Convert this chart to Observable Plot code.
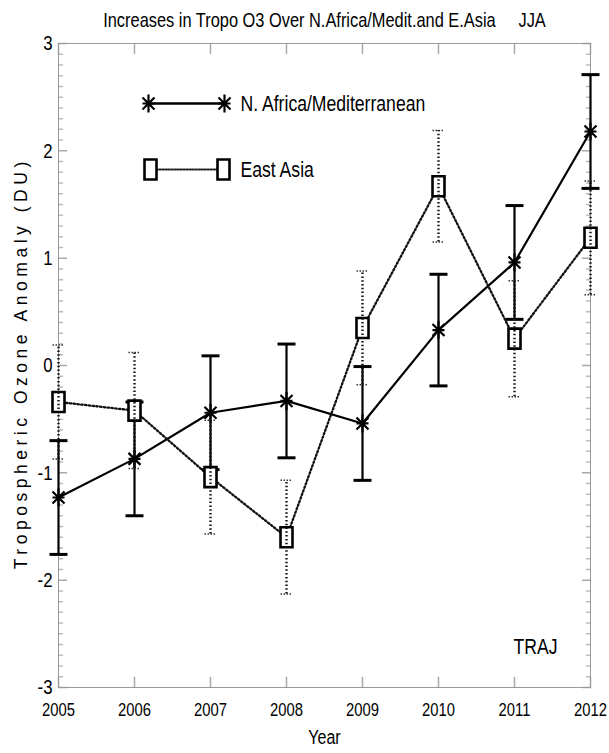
<!DOCTYPE html>
<html><head><meta charset="utf-8">
<script src="https://cdn.jsdelivr.net/npm/d3@7"></script>
<script src="https://cdn.jsdelivr.net/npm/@observablehq/plot@0.6"></script>
<style>
body{margin:0;background:#fff;}
#chart svg{display:block;}
</style></head><body><div id="chart"></div>
<script>
// ---- data ----
const years = [2005, 2006, 2007, 2008, 2009, 2010, 2011, 2012];
const nAfrica = [-1.23, -0.87, -0.44, -0.33, -0.54, 0.33, 0.96, 2.18];
const nAfricaErr = [0.53, 0.53, 0.53, 0.53, 0.53, 0.52, 0.53, 0.53];
const eastAsia = [-0.34, -0.42, -1.04, -1.60, 0.35, 1.67, 0.25, 1.19];
const eastAsiaErr = [0.53, 0.54, 0.53, 0.53, 0.53, 0.52, 0.54, 0.53];
const yTicks = [-3, -2, -1, 0, 1, 2, 3];
const yMinorTicks = d3.range(-30, 31).filter(i => i % 10 !== 0).map(i => i / 10);
const seriesNames = ["N. Africa/Mediterranean", "East Asia"];
const titleText = "Increases in Tropo O3 Over N.Africa/Medit.and E.Asia\u00a0\u00a0\u00a0\u00a0\u00a0JJA";
const xLabel = "Year";
const yLabel = "Tropospheric Ozone Anomaly (DU)";
const noteText = "TRAJ";

const naf = years.map((year, i) => ({year, v: nAfrica[i], e: nAfricaErr[i]}));
const eas = years.map((year, i) => ({year, v: eastAsia[i], e: eastAsiaErr[i]}));

// ---- styling ----
const FONT = "'Liberation Sans',Arial,Helvetica,sans-serif";
const NARROW_FACTOR = 0.8;     // condensed lettering like the original
const YLABEL_SPREAD = 1.5;     // the y label is letter-spaced in the original
const tickShape = {draw(c, l) { c.moveTo(0, 0); c.lineTo(0, -l); }};
const asterisk = {draw(c) {
  c.moveTo(0, -9); c.lineTo(0, 9);
  c.moveTo(-6, -6); c.lineTo(6, 6);
  c.moveTo(-6, 6); c.lineTo(6, -6);
  c.moveTo(-6, 0); c.lineTo(6, 0);
}};
const box = {draw(c) { c.rect(-6, -10, 12, 20); }};
const capSolid = {draw(c) { c.moveTo(-9, 0); c.lineTo(9, 0); }};
const capDotted = {draw(c) { c.moveTo(-6, 0); c.lineTo(6, 0); }};
const DOT = "1.5,2.3";

const plot = Plot.plot({
  width: 609, height: 753,
  marginTop: 43, marginRight: 19, marginBottom: 66, marginLeft: 58,
  style: {fontFamily: FONT, background: "white", color: "black", overflow: "visible"},
  x: {domain: [2005, 2012]},
  y: {domain: [-3, 3]},
  marks: [
    // inward ticks
    Plot.vector(years, {x: d => d, frameAnchor: "bottom", length: 10, rotate: 0, anchor: "start", shape: tickShape, stroke: "#aaa"}),
    Plot.vector(years, {x: d => d, frameAnchor: "top", length: 10, rotate: 180, anchor: "start", shape: tickShape, stroke: "#aaa"}),
    Plot.vector(yTicks, {y: d => d, frameAnchor: "left", length: 8, rotate: 90, anchor: "start", shape: tickShape, stroke: "#aaa"}),
    Plot.vector(yTicks, {y: d => d, frameAnchor: "right", length: 8, rotate: -90, anchor: "start", shape: tickShape, stroke: "#aaa"}),
    Plot.vector(yMinorTicks, {y: d => d, frameAnchor: "left", length: 4, rotate: 90, anchor: "start", shape: tickShape, stroke: "#bbb"}),
    Plot.vector(yMinorTicks, {y: d => d, frameAnchor: "right", length: 4, rotate: -90, anchor: "start", shape: tickShape, stroke: "#bbb"}),
    Plot.frame({stroke: "#999"}),
    Plot.axisX(years, {tickSize: 0, tickPadding: 15, tickFormat: d => String(d), fontSize: 18.5, label: null}),
    Plot.axisY(yTicks, {tickSize: 0, tickPadding: 6, tickFormat: d => String(d), fontSize: 21, label: null}),

    // N. Africa / Mediterranean
    Plot.line(naf, {x: "year", y: "v", stroke: "black", strokeWidth: 2.2}),
    Plot.ruleX(naf, {x: "year", y1: d => d.v - d.e, y2: d => d.v + d.e, stroke: "black", strokeWidth: 2.2}),
    Plot.dot(naf, {x: "year", y: d => d.v + d.e, symbol: capSolid, fill: "none", stroke: "black", strokeWidth: 3}),
    Plot.dot(naf, {x: "year", y: d => d.v - d.e, symbol: capSolid, fill: "none", stroke: "black", strokeWidth: 3}),
    Plot.dot(naf, {x: "year", y: "v", symbol: asterisk, fill: "none", stroke: "black", strokeWidth: 2.2}),

    // East Asia
    Plot.line(eas, {x: "year", y: "v", stroke: "#111", strokeWidth: 2.3, strokeDasharray: DOT}),
    Plot.dot(eas, {x: "year", y: "v", symbol: box, fill: "white", stroke: "black", strokeWidth: 2.6}),
    Plot.ruleX(eas, {x: "year", y1: d => d.v - d.e, y2: d => d.v + d.e, stroke: "#111", strokeWidth: 2.4, strokeDasharray: DOT}),
    Plot.dot(eas, {x: "year", y: d => d.v + d.e, symbol: capDotted, fill: "none", stroke: "#333", strokeWidth: 1.5, strokeDasharray: "1.5,1.5"}),
    Plot.dot(eas, {x: "year", y: d => d.v - d.e, symbol: capDotted, fill: "none", stroke: "#333", strokeWidth: 1.5, strokeDasharray: "1.5,1.5"}),

    // legend
    Plot.vector([0], {frameAnchor: "top-left", dx: 90, dy: 60, rotate: 90, length: 76, anchor: "start", shape: tickShape, stroke: "black", strokeWidth: 2.4}),
    Plot.dot([0], {frameAnchor: "top-left", dx: 90, dy: 60, symbol: asterisk, fill: "none", stroke: "black", strokeWidth: 2.2}),
    Plot.dot([0], {frameAnchor: "top-left", dx: 166, dy: 60, symbol: asterisk, fill: "none", stroke: "black", strokeWidth: 2.2}),
    Plot.text([seriesNames[0]], {text: d => d, frameAnchor: "top-left", dx: 182, dy: 60, textAnchor: "start", lineAnchor: "middle", fontSize: 22}),
    Plot.vector([0], {frameAnchor: "top-left", dx: 92, dy: 126, rotate: 90, length: 73, anchor: "start", shape: tickShape, stroke: "#222", strokeWidth: 2, strokeDasharray: "1.5,1.5"}),
    Plot.dot([0], {frameAnchor: "top-left", dx: 92, dy: 126, symbol: box, fill: "white", stroke: "black", strokeWidth: 2.6}),
    Plot.dot([0], {frameAnchor: "top-left", dx: 165, dy: 126, symbol: box, fill: "white", stroke: "black", strokeWidth: 2.6}),
    Plot.text([seriesNames[1]], {text: d => d, frameAnchor: "top-left", dx: 182, dy: 126, textAnchor: "start", lineAnchor: "middle", fontSize: 22}),

    // texts
    Plot.text([titleText], {text: d => d, frameAnchor: "top", dy: -23, textAnchor: "middle", lineAnchor: "middle", fontSize: 20.5}),
    Plot.text([xLabel], {text: d => d, frameAnchor: "bottom", dy: 50, textAnchor: "middle", lineAnchor: "middle", fontSize: 20}),
    Plot.text([yLabel], {text: d => d, frameAnchor: "left", dx: -37, rotate: -90, textAnchor: "middle", lineAnchor: "middle", fontSize: 17.5}),
    Plot.text([noteText], {text: d => d, frameAnchor: "bottom-right", dx: -55, dy: -41, textAnchor: "middle", lineAnchor: "middle", fontSize: 22})
  ]
});
document.getElementById("chart").appendChild(plot);

// lettering adjustments: condensed glyphs (horizontal scale about each text's anchor),
// spaced letters for the y label
d3.select(plot).selectAll("text").each(function() {
  if (this.textContent === yLabel) {
    const L = this.getComputedTextLength();
    this.setAttribute("textLength", (L * YLABEL_SPREAD).toFixed(1));
    this.setAttribute("lengthAdjust", "spacing");
  } else {
    const t = this.getAttribute("transform") || "";
    this.setAttribute("transform", `${t} scale(${NARROW_FACTOR},1)`);
  }
});
</script>
</body></html>
